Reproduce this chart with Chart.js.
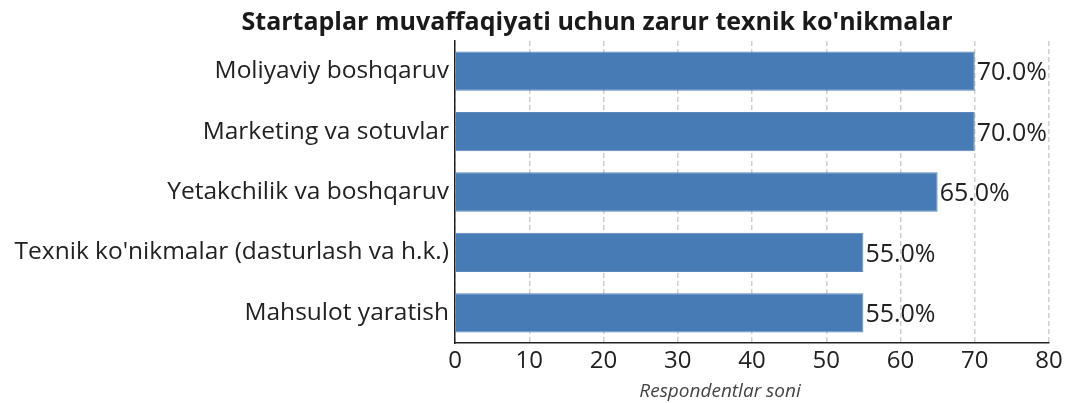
<!DOCTYPE html>
<html><head><meta charset="utf-8">
<script src="https://cdn.jsdelivr.net/npm/chart.js@4"></script>
<style>html,body{margin:0;padding:0;background:#fff}#wrap{width:1067px;height:403px}</style>
</head><body><div id="wrap"><canvas id="c"></canvas></div>
<script>
const categories = ["Moliyaviy boshqaruv","Marketing va sotuvlar","Yetakchilik va boshqaruv","Texnik ko'nikmalar (dasturlash va h.k.)","Mahsulot yaratish"];
const values = [70, 70, 65, 55, 55];
const xTicks = [0,10,20,30,40,50,60,70,80];
const titleText = "Startaplar muvaffaqiyati uchun zarur texnik ko'nikmalar";
const xAxisTitle = "Respondentlar soni";
const FONT = "'Open Sans', 'Noto Sans', sans-serif";

const extras = {
  id: 'extras',
  afterDatasetsDraw(chart) {
    const ctx = chart.ctx;
    const meta = chart.getDatasetMeta(0);
    ctx.save();
    ctx.font = "25px " + FONT;
    ctx.fillStyle = "#222";
    ctx.textAlign = "left";
    ctx.textBaseline = "middle";
    meta.data.forEach((bar, i) => {
      ctx.fillText(values[i].toFixed(1) + "%", bar.x + 2, bar.y + 2);
    });
    ctx.restore();
  },
  afterDraw(chart) {
    const ctx = chart.ctx;
    ctx.save();
    ctx.fillStyle = "#1a1a1a";
    ctx.font = "bold 25px " + FONT;
    ctx.textAlign = "center";
    ctx.textBaseline = "middle";
    ctx.fillText(titleText, 597, 23);
    ctx.font = "italic 19px " + FONT;
    ctx.fillStyle = "#444";
    ctx.fillText(xAxisTitle, 720, 392);
    ctx.restore();
  }
};

new Chart(document.getElementById('c'), {
  type: 'bar',
  data: {
    labels: categories,
    datasets: [{
      data: values,
      backgroundColor: '#477bb5',
      borderColor: '#5a88bd',
      borderWidth: 1,
      barPercentage: 0.65,
      categoryPercentage: 1.0
    }]
  },
  options: {
    indexAxis: 'y',
    responsive: true,
    maintainAspectRatio: false,
    animation: false,
    layout: { padding: { top: 41, right: 18, bottom: 0, left: 0 } },
    plugins: { legend: { display: false }, tooltip: { enabled: false } },
    scales: {
      x: {
        min: 0, max: 80,
        afterBuildTicks(s) { s.ticks = xTicks.map(v => ({ value: v })); },
        afterFit(s) { s.height = 60; },
        ticks: { font: { family: FONT, size: 24 }, color: '#222', padding: 4 },
        grid: { color: '#cfcfcf', lineWidth: 1.5, drawTicks: false, tickLength: 0 },
        border: { display: true, color: '#222', width: 1.5, dash: [5, 3] }
      },
      y: {
        afterFit(s) { s.width = 455; },
        ticks: { font: { family: FONT, size: 24.5 }, color: '#222', padding: 6 },
        grid: { display: false, drawTicks: false },
        border: { display: true, color: '#222', width: 1.5 }
      }
    }
  },
  plugins: [extras]
});
</script>
</body></html>
